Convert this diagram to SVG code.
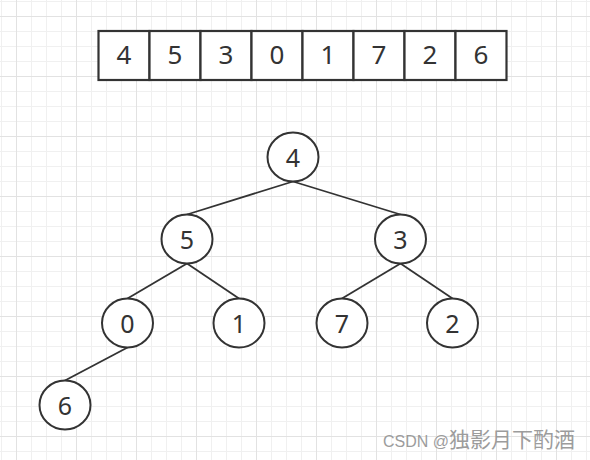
<svg xmlns="http://www.w3.org/2000/svg" width="590" height="460" viewBox="0 0 590 460">
<defs>
<pattern id="minor" width="15" height="15" patternUnits="userSpaceOnUse" x="1" y="1">
<path d="M0.5 0V15M0 0.5H15" stroke="#f0f0f0" stroke-width="1" fill="none"/>
</pattern>
<pattern id="major" width="60" height="60" patternUnits="userSpaceOnUse" x="16" y="16">
<path d="M0.5 0V60M0 0.5H60" stroke="#e2e2e2" stroke-width="1" fill="none"/>
</pattern>
<style>
.cell{fill:#fff;stroke:#333;stroke-width:2.2}
.node{fill:#fff;stroke:#333;stroke-width:2}
.edge{stroke:#333;stroke-width:1.8;fill:none}
.at{font-family:"Noto Sans","Open Sans",sans-serif;font-size:26px;fill:#333;text-anchor:middle}
.nt{font-family:"Noto Sans","Open Sans",sans-serif;font-size:25px;fill:#333;text-anchor:middle}
.wm{font-family:"Liberation Sans","Noto Sans CJK SC",sans-serif;font-size:16px;fill:#9c9c9c}
</style>
</defs>
<rect width="590" height="460" fill="#fff"/>
<rect width="590" height="460" fill="url(#minor)"/>
<rect width="590" height="460" fill="url(#major)"/>
<g id="array">
<rect class="cell" x="98.5" y="31" width="51" height="49"/>
<rect class="cell" x="149.5" y="31" width="51" height="49"/>
<rect class="cell" x="200.5" y="31" width="51" height="49"/>
<rect class="cell" x="251.5" y="31" width="51" height="49"/>
<rect class="cell" x="302.5" y="31" width="51" height="49"/>
<rect class="cell" x="353.5" y="31" width="51" height="49"/>
<rect class="cell" x="404.5" y="31" width="51" height="49"/>
<rect class="cell" x="455.5" y="31" width="51" height="49"/>
<text class="at" x="124" y="64">4</text>
<text class="at" x="175" y="64">5</text>
<text class="at" x="226" y="64">3</text>
<text class="at" x="277" y="64">0</text>
<text class="at" x="328" y="64">1</text>
<text class="at" x="379" y="64">7</text>
<text class="at" x="430" y="64">2</text>
<text class="at" x="481" y="64">6</text>
</g>
<g id="connectors">
<line class="edge" x1="293" y1="181.5" x2="187" y2="214.5"/>
<line class="edge" x1="293" y1="181.5" x2="400.5" y2="214.5"/>
<line class="edge" x1="187" y1="263.5" x2="127.5" y2="298.5"/>
<line class="edge" x1="187" y1="263.5" x2="239" y2="298.5"/>
<line class="edge" x1="400.5" y1="263.5" x2="342" y2="298.5"/>
<line class="edge" x1="400.5" y1="263.5" x2="452.5" y2="298.5"/>
<line class="edge" x1="127.5" y1="347.5" x2="65" y2="380.5"/>
</g>
<g id="n4"><ellipse class="node" cx="293" cy="157" rx="25.5" ry="24.5"/><text class="nt" x="293" y="166.5">4</text></g>
<g id="n5"><ellipse class="node" cx="187" cy="239" rx="25.5" ry="24.5"/><text class="nt" x="187" y="248.5">5</text></g>
<g id="n3"><ellipse class="node" cx="400.5" cy="239" rx="25.5" ry="24.5"/><text class="nt" x="400.5" y="248.5">3</text></g>
<g id="n0"><ellipse class="node" cx="127.5" cy="323" rx="25.5" ry="24.5"/><text class="nt" x="127.5" y="332.5">0</text></g>
<g id="n1"><ellipse class="node" cx="239" cy="323" rx="25.5" ry="24.5"/><text class="nt" x="239" y="332.5">1</text></g>
<g id="n7"><ellipse class="node" cx="342" cy="323" rx="25.5" ry="24.5"/><text class="nt" x="342" y="332.5">7</text></g>
<g id="n2"><ellipse class="node" cx="452.5" cy="323" rx="25.5" ry="24.5"/><text class="nt" x="452.5" y="332.5">2</text></g>
<g id="n6"><ellipse class="node" cx="65" cy="405" rx="25.5" ry="24.5"/><text class="nt" x="65" y="414.5">6</text></g>
<text class="wm" x="383" y="447">CSDN @<tspan font-size="21px">独影月下酌酒</tspan></text>
</svg>
